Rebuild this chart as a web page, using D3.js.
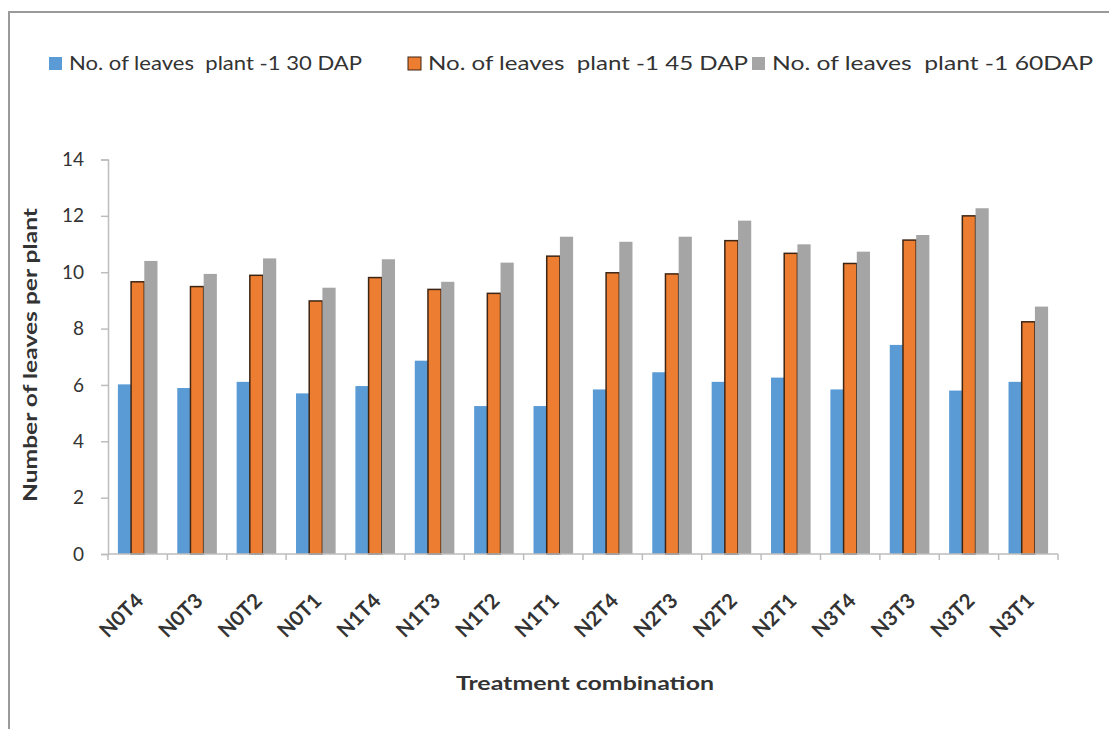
<!DOCTYPE html>
<html>
<head>
<meta charset="utf-8">
<script src="https://cdn.jsdelivr.net/npm/d3@7"></script>
<style>
  html, body { margin: 0; padding: 0; background: #fff; }
  svg { display: block; }
  text { font-family: Lato, "Open Sans", sans-serif; fill: #333; }
  .legend-label { white-space: pre; }
</style>
</head>
<body>
<svg id="chart" width="1109" height="729"></svg>
<script>
// Treatment combinations along the x axis
const categories = ["N0T4","N0T3","N0T2","N0T1","N1T4","N1T3","N1T2","N1T1",
                    "N2T4","N2T3","N2T2","N2T1","N3T4","N3T3","N3T2","N3T1"];

// Number of leaves per plant at each sampling date
const leaves30 = [6.02,5.89,6.11,5.70,5.96,6.86,5.25,5.25,5.84,6.45,6.11,6.26,5.84,7.42,5.80,6.11];
const leaves45 = [9.66,9.49,9.89,8.98,9.81,9.39,9.25,10.57,9.98,9.94,11.12,10.67,10.31,11.14,12.00,8.24];
const leaves60 = [10.40,9.94,10.49,9.45,10.46,9.66,10.34,11.26,11.08,11.26,11.83,10.99,10.73,11.32,12.27,8.78];

const seriesNames = ["No. of leaves  plant -1 30 DAP",
                     "No. of leaves  plant -1 45 DAP",
                     "No. of leaves  plant -1 60DAP"];
const yTicks = [0, 2, 4, 6, 8, 10, 12, 14];

const series = [leaves30, leaves45, leaves60];
const colors = ["#5B9BD5", "#ED7D31", "#A5A5A5"];

const svg = d3.select("#chart");

// Outer chart frame
svg.append("rect")
  .attr("x", 9).attr("y", 12)
  .attr("width", 1120).attr("height", 740)
  .attr("fill", "none").attr("stroke", "#9a9a9a").attr("stroke-width", 2);

const plot = { left: 108, right: 1058, top: 159.5, bottom: 554 };

const x0 = d3.scaleBand()
  .domain(categories)
  .range([plot.left, plot.right])
  .paddingInner(1 / 3)
  .paddingOuter(1 / 6);

const x1 = d3.scaleBand()
  .domain(d3.range(series.length))
  .range([0, x0.bandwidth()]);

const y = d3.scaleLinear().domain([0, 14]).range([plot.bottom, plot.top]);

// Bars
const groups = svg.append("g").selectAll("g")
  .data(categories)
  .join("g")
  .attr("transform", d => `translate(${x0(d)},0)`);

groups.selectAll("rect")
  .data((c, i) => series.map((s, k) => ({ k, v: s[i] })))
  .join("rect")
  .attr("x", d => x1(d.k))
  .attr("y", d => y(d.v))
  .attr("width", x1.bandwidth())
  .attr("height", d => y(0) - y(d.v))
  .attr("fill", d => colors[d.k])
  .attr("stroke", d => d.k === 1 ? "#3d2514" : "none")
  .attr("stroke-width", d => d.k === 1 ? 1.5 : 0);

// Y axis
const yAxis = d3.axisLeft(y).tickValues(yTicks).tickSize(7).tickPadding(17);
const gy = svg.append("g")
  .attr("transform", `translate(${plot.left},0)`)
  .call(yAxis);
gy.select(".domain").attr("stroke", "#bdbdbd").attr("stroke-width", 1.5);
gy.selectAll(".tick line").attr("stroke", "#bdbdbd").attr("stroke-width", 1.5);
gy.selectAll(".tick text")
  .style("font-family", "Lato, sans-serif")
  .style("font-size", "19px")
  .attr("fill", "#333");

// X axis: category boundary ticks
const gx = svg.append("g")
  .attr("transform", `translate(0,${plot.bottom})`);
gx.append("line")
  .attr("x1", plot.left).attr("x2", plot.right)
  .attr("stroke", "#bdbdbd").attr("stroke-width", 1.5);
const step = x0.step();
gx.selectAll("line.tick")
  .data(d3.range(categories.length + 1))
  .join("line")
  .attr("class", "tick")
  .attr("x1", i => plot.left + i * step).attr("x2", i => plot.left + i * step)
  .attr("y1", 0).attr("y2", 6)
  .attr("stroke", "#bdbdbd").attr("stroke-width", 1.5);

// Rotated category labels
gx.selectAll("text.cat")
  .data(categories)
  .join("text")
  .attr("class", "cat")
  .attr("text-anchor", "end")
  .attr("transform", d => `translate(${x0(d) + x0.bandwidth() / 2 + 7},${48}) rotate(-45)`)
  .style("font-size", "20.5px")
  .style("font-weight", "bold")
  .text(d => d);

// Axis titles
svg.append("text")
  .attr("transform", `translate(37,355) rotate(-90)`)
  .attr("text-anchor", "middle")
  .style("font-size", "19px")
  .style("font-weight", "bold")
  .attr("textLength", 294).attr("lengthAdjust", "spacingAndGlyphs")
  .text("Number of leaves per plant");

svg.append("text")
  .attr("x", 585).attr("y", 690)
  .attr("text-anchor", "middle")
  .style("font-size", "19px")
  .style("font-weight", "bold")
  .attr("textLength", 258).attr("lengthAdjust", "spacingAndGlyphs")
  .text("Treatment combination");

// Legend
const legendX = [49, 408, 752];
const legendTextW = [293, 320, 321];
const legend = svg.append("g").selectAll("g")
  .data(seriesNames)
  .join("g")
  .attr("transform", (d, i) => `translate(${legendX[i]},57)`);
legend.append("rect")
  .attr("width", 13).attr("height", 13)
  .attr("fill", (d, i) => colors[i])
  .attr("stroke", (d, i) => i === 1 ? "#3d2514" : "none")
  .attr("stroke-width", 1);
legend.append("text")
  .attr("class", "legend-label")
  .attr("x", 20).attr("y", 13)
  .style("font-size", "19px")
  .attr("textLength", (d, i) => legendTextW[i])
  .attr("lengthAdjust", "spacingAndGlyphs")
  .text(d => d);
</script>
</body>
</html>
